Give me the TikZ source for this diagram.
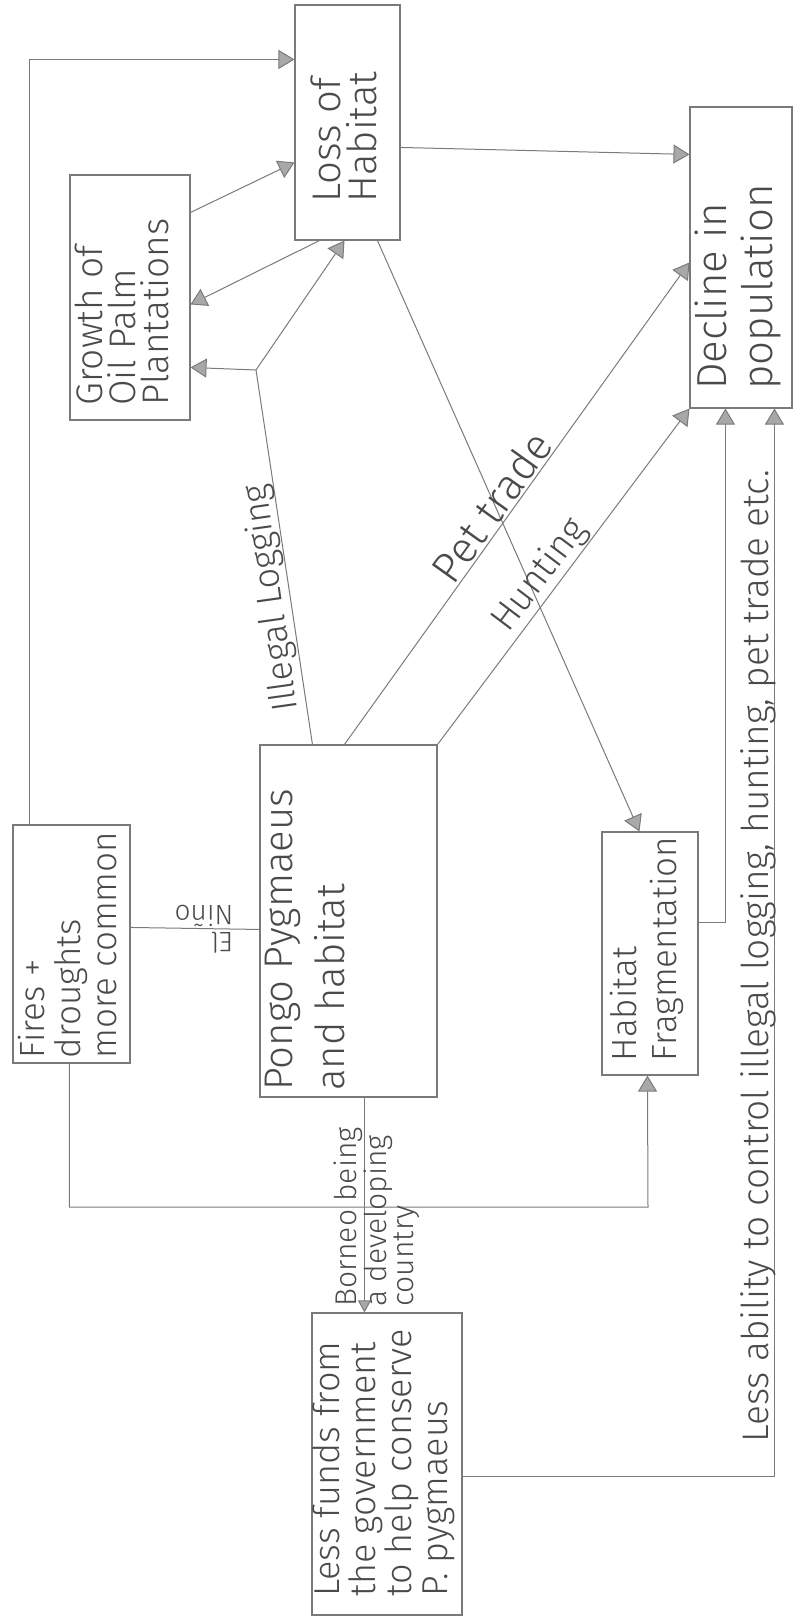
\documentclass[tikz,border=0pt]{standalone}
\usepackage{fontspec}
\setmainfont{Fira Sans Light}
\usetikzlibrary{arrows.meta}
\definecolor{ink}{HTML}{7A7A7A}
\definecolor{txt}{HTML}{4A4A4A}
\definecolor{tipfill}{HTML}{A8A8A8}
\begin{document}
\begin{tikzpicture}[x=1pt,y=-1pt,
  box/.style={draw=ink, line width=1.1pt, inner sep=0pt, rectangle},
  lbl/.style={text=txt, inner sep=0pt, align=left},
  conn/.style={draw=ink, line width=1pt},
  arr/.style={conn, -{Triangle[length=16pt,width=19pt,fill=tipfill]}},
  arrs/.style={conn, -{Triangle[length=12pt,width=13pt,fill=tipfill]}}
]
\useasboundingbox (0,0) rectangle (795,1624);

% boxes
\node[box, minimum width=105pt, minimum height=235pt] (loss) at (347.5,122.5) {};
\node[box, minimum width=120pt, minimum height=245pt] (growth) at (130,297.5) {};
\node[box, minimum width=102pt, minimum height=301pt] (decline) at (741,257.5) {};
\node[box, minimum width=117pt, minimum height=238pt] (fires) at (71.5,944) {};
\node[box, minimum width=177pt, minimum height=352pt] (pongo) at (348.5,921) {};
\node[box, minimum width=96pt, minimum height=243pt] (frag) at (650,953.5) {};
\node[box, minimum width=150pt, minimum height=302pt] (funds) at (387,1464) {};

% box texts
\node[lbl, rotate=90, font=\fontsize{40}{36}\selectfont] (losst) at (344,137) {Loss of\\Habitat};
\node[lbl, rotate=90, font=\fontsize{37}{33}\selectfont] (growtht) at (122,312) {Growth of\\Oil Palm\\Plantations};
\node[lbl, rotate=90, font=\fontsize{40}{52}\selectfont] (pongot) at (305,940) {Pongo Pygmaeus\\and habitat};
\node[lbl, rotate=90, font=\fontsize{35}{36}\selectfont] (firest) at (68,945) {Fires +\\droughts\\more common};
\node[lbl, rotate=90, font=\fontsize{35}{40}\selectfont] (fragt) at (647,949) {Habitat\\Fragmentation};
\node[lbl, rotate=90, font=\fontsize{42}{46}\selectfont] (declinet) at (738,287) {Decline in\\population};
\node[lbl, rotate=90, font=\fontsize{36}{36}\selectfont] (fundst) at (384,1463) {Less funds from\\the government\\to help conserve\\P. pygmaeus};

% connectors
\draw[arr] ([xshift=17pt]fires.north west) |- ([yshift=-55pt]loss.north west);
\draw[arr] ([yshift=-38pt]growth.north east) -- ([yshift=-158pt]loss.north west);
\draw[arr] ([xshift=25pt]loss.south west) -- ([yshift=-130pt]growth.north east);
\coordinate (jn) at (256,370);
\draw[conn] ([xshift=53pt]pongo.north west) -- (jn);
\draw[arr] (jn) -- ([yshift=-193pt]growth.north east);
\draw[arr] (jn) -- ([xshift=50pt]loss.south west);
\draw[arr] ([yshift=-143pt]loss.north east) -- ([yshift=-48pt]decline.north west);
\draw[arr] ([xshift=85pt]pongo.north west) -- ([yshift=-156pt]decline.north west);
\draw[arr] (pongo.north east) -- (decline.south west);
\draw[arr] ([xshift=83pt]loss.south west) -- ([xshift=38pt]frag.north west);
\draw[arr] ([yshift=-91pt]frag.north east) -| ([xshift=36pt]decline.south west);
\draw[arr] ([yshift=-164pt]funds.north east) -| ([xshift=85pt]decline.south west);
\coordinate (fr) at (648,1207);
\draw[arr] ([xshift=57pt]fires.south west) |- (fr) -- ([xshift=46pt]frag.south west);
\draw[conn] ([yshift=-103pt]fires.north east) -- ([yshift=-185pt]pongo.north west);
\draw[arrs] ([xshift=105pt]pongo.south west) -- ([xshift=53pt]funds.north west);

% connector labels
\node[lbl, rotate=98, anchor=south, inner sep=1pt, font=\fontsize{36}{36}\selectfont] (illegal) at (290,595) {Illegal Logging};
\node[lbl, rotate=54.4, anchor=south, inner sep=3pt, font=\fontsize{43}{43}\selectfont] (pet) at (507,518) {Pet trade};
\node[lbl, rotate=53, anchor=south, inner sep=1pt, font=\fontsize{37}{37}\selectfont] (hunt) at (555,587) {Hunting};
\node[lbl, rotate=90, anchor=base, font=\fontsize{37}{37}\selectfont] (ability) at (768,956) {Less ability to control illegal logging, hunting, pet trade etc.};
\node[lbl, rotate=90, font=\fontsize{30}{25}\selectfont] (borneo) at (377,1217) {Borneo being\\a developing\\country};
\node[lbl, rotate=180, font=\fontsize{28}{27}\selectfont] (nino) at (204,929) {El\\Niño};
\end{tikzpicture}
\end{document}
